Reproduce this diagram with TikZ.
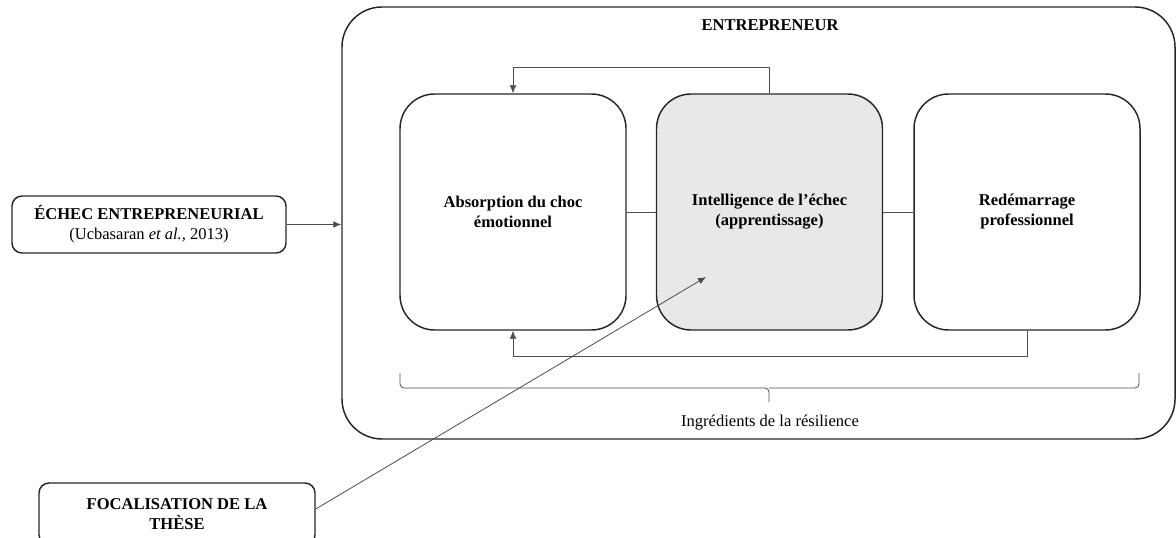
\documentclass[tikz,border=0pt]{standalone}
\usepackage{fontspec}
\setmainfont{Liberation Serif}
\usetikzlibrary{arrows.meta}
\newcommand{\diagfont}{\fontsize{12.4}{15}\selectfont}
\begin{document}
\begin{tikzpicture}[x=0.75pt,y=-0.75pt,
  bigbox/.style={draw=black!85, line width=1.1pt, rounded corners=30pt, inner sep=0pt},
  ingbox/.style={draw=black!85, line width=1.1pt, rounded corners=26pt, minimum width=169.5pt, minimum height=177pt, align=center, inner sep=0pt, font=\diagfont\bfseries},
  smallbox/.style={draw=black!85, line width=1.1pt, rounded corners=7.5pt, minimum width=205.5pt, align=center, inner sep=0pt, font=\diagfont\bfseries},
  conn/.style={draw=black!70, line width=0.6pt},
  tip/.style={-{Latex[length=6pt,width=5pt]}},
  every node/.style={font=\diagfont}
]
\useasboundingbox (0,0) rectangle (1176,538);
\node[bigbox, minimum width=624.75pt, minimum height=324pt] (outer) at (758.5,223) {};
\node[font=\diagfont\bfseries] (title) at (770,25) {ENTREPRENEUR};
\node[ingbox] (abs) at (513,212) {Absorption du choc\\émotionnel};
\node[ingbox, fill=black!9] (intel) at (769.5,212) {Intelligence de l’échec\\(apprentissage)};
\node[ingbox] (redem) at (1027,212) {Redémarrage\\professionnel};
\node[smallbox, minimum height=42.75pt, align=center] (echec) at (149,224.5)
  {\textbf{ÉCHEC ENTREPRENEURIAL}\\\normalfont(Ucbasaran \textit{et al.,} 2013)};
\node[smallbox, minimum width=207pt, minimum height=46.5pt] (focal) at (177,514) {FOCALISATION DE LA\\THÈSE};
\node (ing) at (770,423) {Ingrédients de la résilience};
\coordinate (ftip) at (706,277);

\draw[conn] (abs.east) -- (intel.west);
\draw[conn] (intel.east) -- (redem.west);
\draw[conn, tip] (intel.north) -- ++(0,-26) -| (abs.north);
\draw[conn, tip] (redem.south) -- ++(0,26) -| (abs.south);
\draw[conn, tip] (echec.east) -- (echec.east -| outer.west);
\draw[conn, tip] (focal.east) ++(0,-5) -- (ftip);
\draw[conn, rounded corners=3pt] (400,373) -- (400,388) -- (769,388) -- (769,402)
  (769,388) -- (1139,388) -- (1139,373);
\end{tikzpicture}
\end{document}
